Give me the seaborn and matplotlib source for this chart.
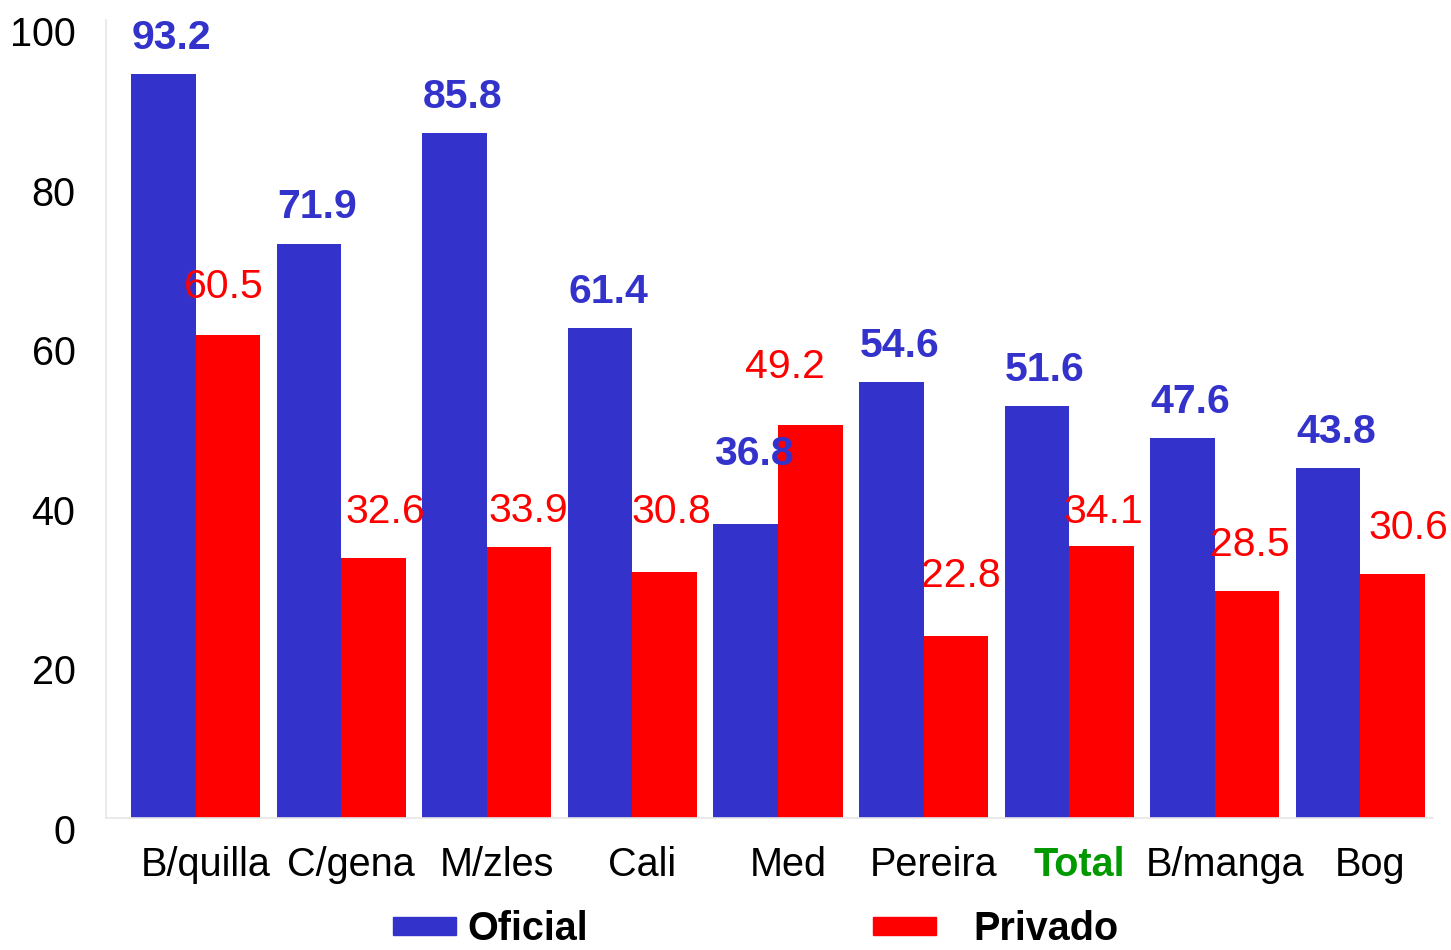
import pandas as pd
import numpy as np
import matplotlib
matplotlib.use("Agg")
import matplotlib.pyplot as plt
import matplotlib.transforms as mtransforms
from matplotlib.ticker import FixedLocator
import seaborn as sns

# datos
ciudades = ["B/quilla", "C/gena", "M/zles", "Cali", "Med", "Pereira", "Total", "B/manga", "Bog"]
oficial = [93.2, 71.9, 85.8, 61.4, 36.8, 54.6, 51.6, 47.6, 43.8]
privado = [60.5, 32.6, 33.9, 30.8, 49.2, 22.8, 34.1, 28.5, 30.6]
series = ["Oficial", "Privado"]

# desplazamiento de las etiquetas (px) respecto al centro/tope de cada barra
dx_ofi = [8] * 9
dy_ofi = [36, 37, 36, 36, 70, 36, 36, 36, 36]
dx_pri = [-4, 12, 9, 7, -25, 5, 2, 3, 16]
dy_pri = [48, 46, 36, 60, 58, 60, 34, 46, 46]

sns.set_style("white")
plt.rcParams["font.family"] = ["Liberation Sans", "DejaVu Sans"]
plt.rcParams["text.color"] = "black"
plt.rcParams["xtick.color"] = "black"
plt.rcParams["ytick.color"] = "black"

df = pd.DataFrame({
    "ciudad": ciudades * 2,
    "valor": oficial + privado,
    "sector": ["Oficial"] * 9 + ["Privado"] * 9,
})

AZUL = "#3333CC"
ROJO = "#FF0000"
VERDE = "#009900"

fig = plt.figure(figsize=(14.51, 9.5), dpi=100)
ax = fig.add_axes([106 / 1451, (950 - 818) / 950, (1433 - 106) / 1451, (818 - 20) / 950])

sns.barplot(data=df, x="ciudad", y="valor", hue="sector", palette=[AZUL, ROJO],
            width=0.887, saturation=1, dodge=True, legend=False, ax=ax, linewidth=0)

ax.set_xlim(-0.617, 8.5)
ax.set_ylim(0, 100)
ax.set_xlabel("")
ax.set_ylabel("")

# ejes
for s in ["top", "right"]:
    ax.spines[s].set_visible(False)
for s in ["left", "bottom"]:
    ax.spines[s].set_color("#e6e6e6")
    ax.spines[s].set_linewidth(1.2)

ax.set_yticks([0, 20, 40, 60, 80, 100])
ax.tick_params(axis="y", length=0, pad=22, labelsize=28.5, colors="black")
off_y = mtransforms.ScaledTranslation(0, -11 / 100, fig.dpi_scale_trans)
for lab in ax.get_yticklabels():
    lab.set_transform(lab.get_transform() + off_y)

pos = np.arange(len(ciudades))
ax.set_xticks(pos + 10 / 145.5)
ax.set_xticklabels(ciudades)
ax.tick_params(axis="x", which="major", length=0, pad=20, labelsize=28.5, labelcolor="black")
ax.xaxis.set_minor_locator(FixedLocator(pos[:-1] + 0.5))
ax.tick_params(axis="x", which="minor", length=6, color="#e6e6e6", width=1.2)
for lab in ax.get_xticklabels():
    if lab.get_text() == "Total":
        lab.set_color(VERDE)
        lab.set_fontweight("bold")

# etiquetas de valores
bw = 0.887 / 2
for i in range(len(ciudades)):
    ax.annotate(f"{oficial[i]:.1f}", (i - bw / 2, oficial[i]),
                xytext=(dx_ofi[i] * 0.72, dy_ofi[i] * 0.72), textcoords="offset points",
                ha="center", va="center", color=AZUL, fontsize=29.5, fontweight="bold")
    ax.annotate(f"{privado[i]:.1f}", (i + bw / 2, privado[i]),
                xytext=(dx_pri[i] * 0.72, dy_pri[i] * 0.72), textcoords="offset points",
                ha="center", va="center", color=ROJO, fontsize=29.5)

# leyenda (una entrada por legend, separaciones distintas como en el original)
ley_x = [393 / 1451, 873 / 1451]
ley_pad = [0.27, 0.94]
for h_col, nombre, x0, tp in zip([AZUL, ROJO], series, ley_x, ley_pad):
    fig.legend([plt.Rectangle((0, 0), 1, 1, color=h_col)], [nombre],
               loc="center left", bbox_to_anchor=(x0, 0.022),
               frameon=False, prop={"size": 28.5, "weight": "bold"}, labelcolor="black",
               borderpad=0, borderaxespad=0,
               handlelength=1.6, handleheight=0.35, handletextpad=tp)

fig.savefig("out.png", dpi=100)
